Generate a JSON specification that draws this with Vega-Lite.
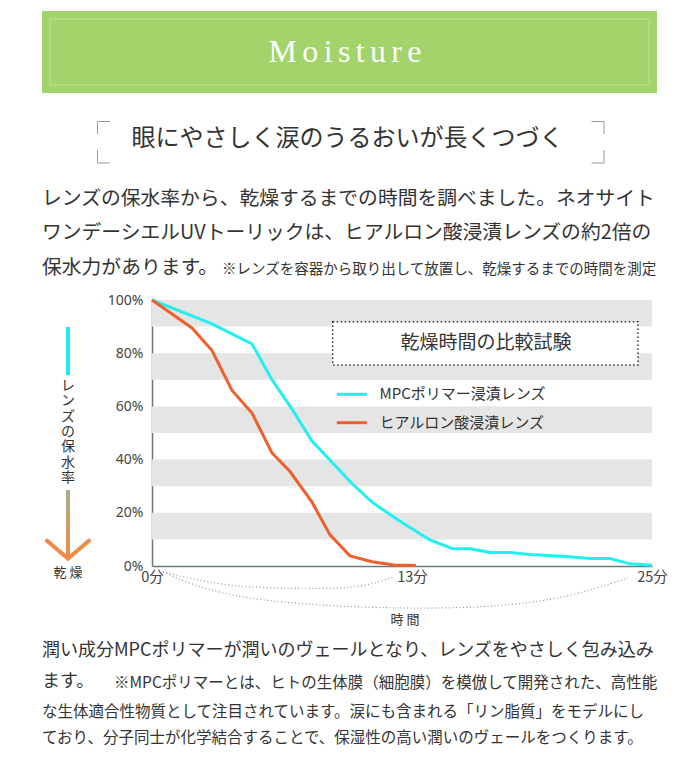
{
  "$schema": "https://vega.github.io/schema/vega-lite/v6.json",
  "width": 500,
  "height": 266,
  "autosize": "none",
  "padding": {"left": 152, "top": 300, "right": 48, "bottom": 197},
  "background": "#ffffff",
  "view": {"stroke": null},
  "config": {"font": "Noto Sans CJK JP"},
  "encoding": {
    "x": {"field": "x", "type": "quantitative", "scale": {"domain": [0, 25], "nice": false, "zero": false},
      "axis": {"values": [0, 13, 25], "labelExpr": "datum.value + '分'", "title": null, "grid": false, "ticks": false,
        "domainColor": "#6a7878", "domainWidth": 1.5, "labelFont": "Noto Sans CJK JP", "labelFontSize": 14.5, "labelColor": "#444444", "labelPadding": 4, "labelFlush": false}},
    "y": {"field": "y", "type": "quantitative", "scale": {"domain": [0, 100], "nice": false, "zero": false},
      "axis": {"values": [0, 20, 40, 60, 80, 100], "labelExpr": "datum.value + '%'", "title": null, "grid": false, "ticks": false,
        "domainColor": "#6a7878", "domainWidth": 1.5, "labelFont": "Noto Sans", "labelFontSize": 14, "labelColor": "#444444", "labelPadding": 9}}
  },
  "layer": [
    {
      "data": {"values": [{"x": -5.5, "x2": 25.25, "y": 208.65, "y2": 177.82}]},
      "mark": {"type": "rect", "color": "#a3d36b", "clip": false},
      "encoding": {"x2": {"field": "x2"}, "y2": {"field": "y2"}}
    },
    {
      "data": {"values": [{"x": -5.1, "x2": 24.85, "y": 205.64, "y2": 180.83}]},
      "mark": {"type": "rect", "fill": null, "stroke": "#bfe397", "strokeWidth": 1, "clip": false},
      "encoding": {"x2": {"field": "x2"}, "y2": {"field": "y2"}}
    },
    {
      "data": {"values": [{"x": 9.65, "y": 193.23, "text": "M\u2006o\u2006i\u2006s\u2006t\u2006u\u2006r\u2006e"}]},
      "mark": {"type": "text", "font": "Liberation Serif", "fontSize": 32, "color": "#ffffff", "align": "center", "baseline": "middle", "clip": false},
      "encoding": {"text": {"field": "text"}}
    },
    {
      "data": {"values": [
        {"seg": "TL", "i": 0, "x": -2.1, "y": 167.11}, {"seg": "TL", "i": 1, "x": -2.725, "y": 167.11}, {"seg": "TL", "i": 2, "x": -2.725, "y": 162.41},
        {"seg": "BL", "i": 0, "x": -2.725, "y": 156.39}, {"seg": "BL", "i": 1, "x": -2.725, "y": 151.5}, {"seg": "BL", "i": 2, "x": -2.1, "y": 151.5},
        {"seg": "TR", "i": 0, "x": 21.975, "y": 167.11}, {"seg": "TR", "i": 1, "x": 22.6, "y": 167.11}, {"seg": "TR", "i": 2, "x": 22.6, "y": 162.41},
        {"seg": "BR", "i": 0, "x": 22.6, "y": 156.39}, {"seg": "BR", "i": 1, "x": 22.6, "y": 151.5}, {"seg": "BR", "i": 2, "x": 21.975, "y": 151.5}
      ]},
      "mark": {"type": "line", "color": "#999999", "strokeWidth": 1, "clip": false},
      "encoding": {"detail": {"field": "seg"}, "order": {"field": "i"}}
    },
    {
      "data": {"values": [{"x": 9.775, "y": 160.53, "text": "眼にやさしく涙のうるおいが長くつづく"}]},
      "mark": {"type": "text", "fontSize": 24, "color": "#333333", "align": "center", "baseline": "middle", "clip": false},
      "encoding": {"text": {"field": "text"}}
    },
    {
      "data": {"values": [
        {"x": -5.5, "y": 137.97, "text": "レンズの保水率から、乾燥するまでの時間を調べました。ネオサイト"},
        {"x": -5.5, "y": 125.19, "text": "ワンデーシエルUVトーリックは、ヒアルロン酸浸漬レンズの約2倍の"},
        {"x": -5.5, "y": 112.03, "text": "保水力があります。"}
      ]},
      "mark": {"type": "text", "fontSize": 19.8, "color": "#333333", "align": "left", "baseline": "middle", "clip": false},
      "encoding": {"text": {"field": "text"}}
    },
    {
      "data": {"values": [{"x": 3.5, "y": 111.28, "text": "※レンズを容器から取り出して放置し、乾燥するまでの時間を測定"}]},
      "mark": {"type": "text", "fontSize": 14.5, "color": "#333333", "align": "left", "baseline": "middle", "clip": false},
      "encoding": {"text": {"field": "text"}}
    },
    {
      "data": {"values": [
        {"x": 0, "x2": 25, "y": 90, "y2": 100}, {"x": 0, "x2": 25, "y": 70, "y2": 80},
        {"x": 0, "x2": 25, "y": 50, "y2": 60}, {"x": 0, "x2": 25, "y": 30, "y2": 40},
        {"x": 0, "x2": 25, "y": 10, "y2": 20}
      ]},
      "mark": {"type": "rect", "color": "#e5e5e5"},
      "encoding": {"x2": {"field": "x2"}, "y2": {"field": "y2"}}
    },
    {
      "data": {"values": [
        {"arc": "13", "x": 0.55, "y": -2.26}, {"arc": "13", "x": 3.9, "y": -7.14}, {"arc": "13", "x": 7.75, "y": -8.46}, {"arc": "13", "x": 10.4, "y": -7.52}, {"arc": "13", "x": 12.05, "y": -4.14},
        {"arc": "25", "x": 0.55, "y": -2.26}, {"arc": "25", "x": 4.9, "y": -12.03}, {"arc": "25", "x": 12.75, "y": -15.79}, {"arc": "25", "x": 19.4, "y": -13.16}, {"arc": "25", "x": 23.8, "y": -4.51}
      ]},
      "mark": {"type": "line", "interpolate": "natural", "color": "#8c9696", "strokeWidth": 1.2, "strokeDash": [1, 2.5], "clip": false},
      "encoding": {"detail": {"field": "arc"}}
    },
    {
      "data": {"values": [{"x": 12.65, "y": -20.3, "text": "時 間"}, {"x": -4.2, "y": -2.63, "text": "乾 燥"}]},
      "mark": {"type": "text", "fontSize": 13, "color": "#333333", "align": "center", "baseline": "middle", "clip": false},
      "encoding": {"text": {"field": "text"}}
    },
    {
      "data": {"values": [
        {"lens": "MPCポリマー浸漬レンズ", "x": 0, "y": 100}, {"lens": "MPCポリマー浸漬レンズ", "x": 2, "y": 94},
        {"lens": "MPCポリマー浸漬レンズ", "x": 3, "y": 91}, {"lens": "MPCポリマー浸漬レンズ", "x": 5, "y": 83.5},
        {"lens": "MPCポリマー浸漬レンズ", "x": 6, "y": 70}, {"lens": "MPCポリマー浸漬レンズ", "x": 7, "y": 59},
        {"lens": "MPCポリマー浸漬レンズ", "x": 8, "y": 47}, {"lens": "MPCポリマー浸漬レンズ", "x": 9, "y": 39},
        {"lens": "MPCポリマー浸漬レンズ", "x": 10, "y": 31}, {"lens": "MPCポリマー浸漬レンズ", "x": 11, "y": 24},
        {"lens": "MPCポリマー浸漬レンズ", "x": 12.3, "y": 17.3}, {"lens": "MPCポリマー浸漬レンズ", "x": 13.9, "y": 9.8},
        {"lens": "MPCポリマー浸漬レンズ", "x": 15, "y": 6.6}, {"lens": "MPCポリマー浸漬レンズ", "x": 15.9, "y": 6.5},
        {"lens": "MPCポリマー浸漬レンズ", "x": 16.9, "y": 5.1}, {"lens": "MPCポリマー浸漬レンズ", "x": 17.9, "y": 5.1},
        {"lens": "MPCポリマー浸漬レンズ", "x": 18.9, "y": 4.3}, {"lens": "MPCポリマー浸漬レンズ", "x": 20.7, "y": 3.6},
        {"lens": "MPCポリマー浸漬レンズ", "x": 21.9, "y": 2.8}, {"lens": "MPCポリマー浸漬レンズ", "x": 22.9, "y": 2.8},
        {"lens": "MPCポリマー浸漬レンズ", "x": 23.9, "y": 0.8}, {"lens": "MPCポリマー浸漬レンズ", "x": 25, "y": 0.3},
        {"lens": "ヒアルロン酸浸漬レンズ", "x": 0, "y": 100}, {"lens": "ヒアルロン酸浸漬レンズ", "x": 2, "y": 89.5},
        {"lens": "ヒアルロン酸浸漬レンズ", "x": 3, "y": 81}, {"lens": "ヒアルロン酸浸漬レンズ", "x": 4, "y": 66},
        {"lens": "ヒアルロン酸浸漬レンズ", "x": 5, "y": 57.5}, {"lens": "ヒアルロン酸浸漬レンズ", "x": 6, "y": 42.5},
        {"lens": "ヒアルロン酸浸漬レンズ", "x": 6.9, "y": 35.5}, {"lens": "ヒアルロン酸浸漬レンズ", "x": 8, "y": 24},
        {"lens": "ヒアルロン酸浸漬レンズ", "x": 8.9, "y": 11.7}, {"lens": "ヒアルロン酸浸漬レンズ", "x": 9.9, "y": 3.8},
        {"lens": "ヒアルロン酸浸漬レンズ", "x": 11, "y": 1.6}, {"lens": "ヒアルロン酸浸漬レンズ", "x": 12.1, "y": 0.4},
        {"lens": "ヒアルロン酸浸漬レンズ", "x": 13.2, "y": 0.2}
      ]},
      "mark": {"type": "line", "strokeWidth": 3},
      "encoding": {"color": {"field": "lens", "type": "nominal", "scale": {"domain": ["MPCポリマー浸漬レンズ", "ヒアルロン酸浸漬レンズ"], "range": ["#22f0f0", "#f0602c"]}, "legend": null}}
    },
    {
      "data": {"values": [{"x": 9.035, "x2": 24.3, "y": 91.84, "y2": 75.56}]},
      "mark": {"type": "rect", "fill": "#ffffff", "stroke": "#333333", "strokeWidth": 1.5, "strokeDash": [1.5, 2.5], "clip": false},
      "encoding": {"x2": {"field": "x2"}, "y2": {"field": "y2"}}
    },
    {
      "data": {"values": [{"x": 16.7, "y": 83.65, "text": "乾燥時間の比較試験"}]},
      "mark": {"type": "text", "fontSize": 19, "color": "#333333", "align": "center", "baseline": "middle", "clip": false},
      "encoding": {"text": {"field": "text"}}
    },
    {
      "data": {"values": [
        {"lens": "MPCポリマー浸漬レンズ", "x": 9.24, "y": 64.55}, {"lens": "MPCポリマー浸漬レンズ", "x": 10.74, "y": 64.55},
        {"lens": "ヒアルロン酸浸漬レンズ", "x": 9.24, "y": 53.87}, {"lens": "ヒアルロン酸浸漬レンズ", "x": 10.74, "y": 53.87}
      ]},
      "mark": {"type": "line", "strokeWidth": 3},
      "encoding": {"color": {"field": "lens", "type": "nominal", "legend": null}}
    },
    {
      "data": {"values": [
        {"x": 11.375, "y": 64.55, "text": "MPCポリマー浸漬レンズ"},
        {"x": 11.375, "y": 53.87, "text": "ヒアルロン酸浸漬レンズ"}
      ]},
      "mark": {"type": "text", "fontSize": 15, "color": "#333333", "align": "left", "baseline": "middle", "clip": false},
      "encoding": {"text": {"field": "text"}}
    },
    {
      "data": {"values": [{"seg": "c", "x": -4.2, "y": 89.85}, {"seg": "c", "x": -4.2, "y": 71.8}]},
      "mark": {"type": "line", "color": "#26eaea", "strokeWidth": 4, "clip": false},
      "encoding": {"detail": {"field": "seg"}}
    },
    {
      "data": {"values": [{"x": -4.3, "x2": -4.1, "y": 28.57, "y2": 3.38}]},
      "mark": {"type": "rect", "clip": false,
        "fill": {"gradient": "linear", "x1": 0, "y1": 0, "x2": 0, "y2": 1, "stops": [{"offset": 0, "color": "#a3b08e"}, {"offset": 1, "color": "#f08a48"}]}},
      "encoding": {"x2": {"field": "x2"}, "y2": {"field": "y2"}}
    },
    {
      "data": {"values": [{"i": 0, "x": -5.25, "y": 9.5}, {"i": 1, "x": -4.2, "y": 2.8}, {"i": 2, "x": -3.15, "y": 9.5}]},
      "mark": {"type": "line", "color": "#f08a48", "strokeWidth": 4, "strokeCap": "round", "strokeJoin": "miter", "clip": false},
      "encoding": {"order": {"field": "i"}}
    },
    {
      "data": {"values": [{"x": -4.2, "y": 70.3, "text": "レ\nン\nズ\nの\n保\n水\n率"}]},
      "mark": {"type": "text", "fontSize": 14, "lineHeight": 15.3, "lineBreak": "\n", "color": "#333333", "align": "center", "baseline": "top", "clip": false},
      "encoding": {"text": {"field": "text"}}
    },
    {
      "data": {"values": [
        {"x": -5.5, "y": -31.95, "text": "潤い成分MPCポリマーが潤いのヴェールとなり、レンズをやさしく包み込み"},
        {"x": -5.5, "y": -43.61, "text": "ます。"}
      ]},
      "mark": {"type": "text", "fontSize": 18, "color": "#333333", "align": "left", "baseline": "middle", "clip": false},
      "encoding": {"text": {"field": "text"}}
    },
    {
      "data": {"values": [
        {"x": -1.9, "y": -43.98, "text": "※MPCポリマーとは、ヒトの生体膜（細胞膜）を模倣して開発された、高性能"},
        {"x": -5.5, "y": -54.89, "text": "な生体適合性物質として注目されています。涙にも含まれる「リン脂質」をモデルにし"},
        {"x": -5.5, "y": -64.66, "text": "ており、分子同士が化学結合することで、保湿性の高い潤いのヴェールをつくります。"}
      ]},
      "mark": {"type": "text", "fontSize": 15.5, "color": "#333333", "align": "left", "baseline": "middle", "clip": false},
      "encoding": {"text": {"field": "text"}}
    }
  ]
}
